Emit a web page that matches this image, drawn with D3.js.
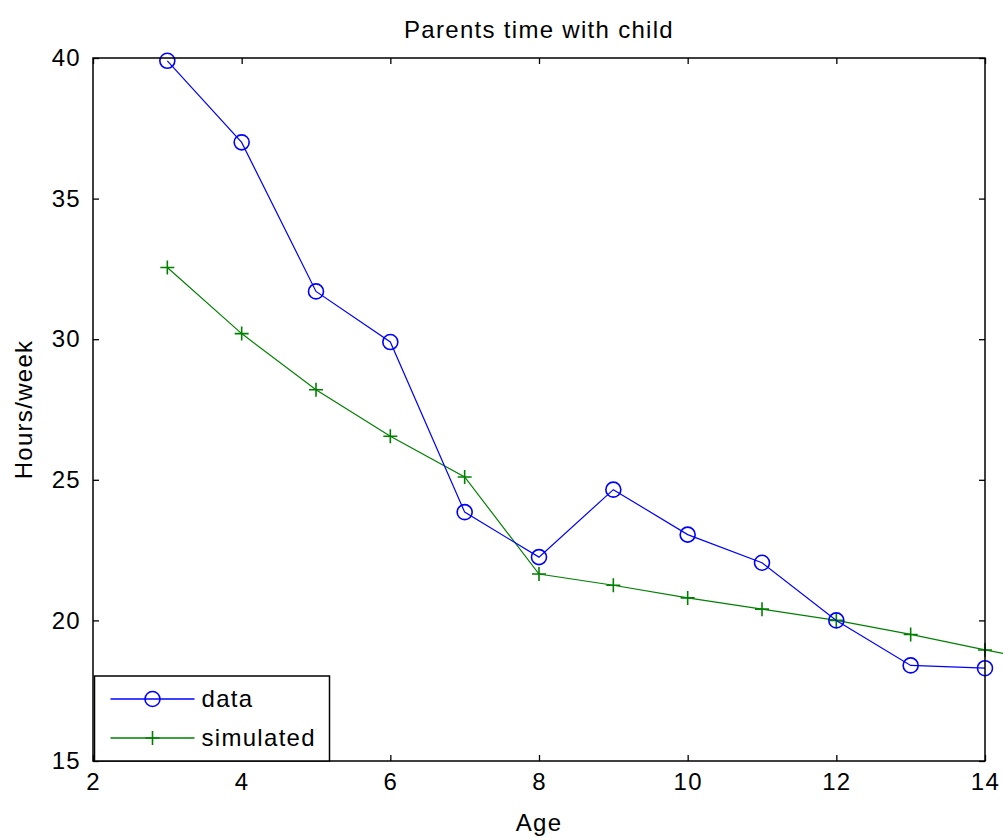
<!DOCTYPE html>
<html>
<head>
<meta charset="utf-8">
<script src="https://cdn.jsdelivr.net/npm/d3@7"></script>
<style>
  body { margin: 0; background: #fff; }
  svg text { font-family: "Liberation Sans", Arial, sans-serif; fill: #000; letter-spacing: 1.3px; }
</style>
</head>
<body>
<script>
// chart data
var ages = [3, 4, 5, 6, 7, 8, 9, 10, 11, 12, 13, 14];
var dataVals = [39.9, 37.0, 31.7, 29.9, 23.85, 22.25, 24.65, 23.05, 22.05, 20.0, 18.4, 18.3];
var simAges = [3, 4, 5, 6, 7, 8, 9, 10, 11, 12, 13, 14, 15];
var simVals = [32.55, 30.2, 28.2, 26.55, 25.1, 21.65, 21.25, 20.8, 20.4, 20.0, 19.5, 18.95, 18.45];
var xTicks = [2, 4, 6, 8, 10, 12, 14];
var yTicks = [15, 20, 25, 30, 35, 40];

var w = 1003, h = 838;
var mLeft = 93, mRight = 985, mTop = 58, mBottom = 761;
var fs = "24px";

var svg = d3.select("body").append("svg")
  .attr("width", w)
  .attr("height", h);

var x = d3.scaleLinear().domain([2, 14]).range([mLeft, mRight]);
var y = d3.scaleLinear().domain([15, 40]).range([mBottom, mTop]);

// title and axis labels
svg.append("text")
  .attr("x", (mLeft + mRight) / 2).attr("y", 38)
  .attr("text-anchor", "middle")
  .attr("font-size", fs)
  .text("Parents time with child");

svg.append("text")
  .attr("x", x(8)).attr("y", 831)
  .attr("text-anchor", "middle")
  .attr("font-size", fs)
  .text("Age");

svg.append("text")
  .attr("transform", "translate(32," + ((mTop + mBottom) / 2) + ") rotate(-90)")
  .attr("text-anchor", "middle")
  .attr("font-size", fs)
  .text("Hours/week");

// lines (not clipped, like matlab)
var line = d3.line()
  .x(function(d) { return x(d[0]); })
  .y(function(d) { return y(d[1]); });

var simPts = simAges.map(function(a, i) { return [a, simVals[i]]; });
var dataPts = ages.map(function(a, i) { return [a, dataVals[i]]; });

svg.append("path")
  .datum(simPts)
  .attr("d", line)
  .attr("fill", "none")
  .attr("stroke", "#008000")
  .attr("stroke-width", 1.2);

svg.selectAll(".plus")
  .data(simPts)
  .enter()
  .append("path")
  .attr("class", "plus")
  .attr("d", function(d) {
    var cx = x(d[0]), cy = y(d[1]), r = 7;
    return "M" + (cx - r) + "," + cy + "H" + (cx + r) + "M" + cx + "," + (cy - r) + "V" + (cy + r);
  })
  .attr("stroke", "#008000")
  .attr("stroke-width", 1.6);

svg.append("path")
  .datum(dataPts)
  .attr("d", line)
  .attr("fill", "none")
  .attr("stroke", "#0000ff")
  .attr("stroke-width", 1.2);

svg.selectAll(".circ")
  .data(dataPts)
  .enter()
  .append("circle")
  .attr("class", "circ")
  .attr("cx", function(d) { return x(d[0]); })
  .attr("cy", function(d) { return y(d[1]); })
  .attr("r", 7.5)
  .attr("fill", "none")
  .attr("stroke", "#0000ff")
  .attr("stroke-width", 1.6);

// axes, ticks inside on all four sides
var tl = 6;
var xAxisB = d3.axisBottom(x).tickValues(xTicks).tickSizeInner(-tl).tickSizeOuter(0).tickPadding(12);
var xAxisT = d3.axisTop(x).tickValues(xTicks).tickSizeInner(-tl).tickSizeOuter(0).tickFormat("");
var yAxisL = d3.axisLeft(y).tickValues(yTicks).tickSizeInner(-tl).tickSizeOuter(0).tickPadding(12);
var yAxisR = d3.axisRight(y).tickValues(yTicks).tickSizeInner(-tl).tickSizeOuter(0).tickFormat("");

function styleAxis(g) {
  g.select(".domain").remove();
  g.selectAll("line").attr("stroke", "#000").attr("stroke-width", 1.3);
  g.selectAll("text").attr("font-size", fs).attr("fill", "#000")
    .style("font-family", "'Liberation Sans', Arial, sans-serif");
}

svg.append("g").attr("transform", "translate(0," + mBottom + ")").call(xAxisB).call(styleAxis);
svg.append("g").attr("transform", "translate(0," + mTop + ")").call(xAxisT).call(styleAxis);
svg.append("g").attr("transform", "translate(" + mLeft + ",0)").call(yAxisL).call(styleAxis);
svg.append("g").attr("transform", "translate(" + mRight + ",0)").call(yAxisR).call(styleAxis);

svg.append("rect")
  .attr("x", mLeft).attr("y", mTop)
  .attr("width", mRight - mLeft).attr("height", mBottom - mTop)
  .attr("fill", "none")
  .attr("stroke", "#000")
  .attr("stroke-width", 1.5);

// legend
var lg = svg.append("g").attr("transform", "translate(" + (mLeft + 1.5) + ",676)");
lg.append("rect")
  .attr("width", 235).attr("height", mBottom - 676)
  .attr("fill", "#fff")
  .attr("stroke", "#000")
  .attr("stroke-width", 1.5);

var legendItems = ["data", "simulated"];
var legendColors = ["#0000ff", "#008000"];
legendItems.forEach(function(name, i) {
  var ly = 23 + i * 39;
  lg.append("line")
    .attr("x1", 16).attr("x2", 100).attr("y1", ly).attr("y2", ly)
    .attr("stroke", legendColors[i]).attr("stroke-width", 1.5);
  if (i === 0) {
    lg.append("circle").attr("cx", 58).attr("cy", ly).attr("r", 7.5)
      .attr("fill", "none").attr("stroke", legendColors[i]).attr("stroke-width", 1.6);
  } else {
    lg.append("path")
      .attr("d", "M51," + ly + "H65M58," + (ly - 7) + "V" + (ly + 7))
      .attr("stroke", legendColors[i]).attr("stroke-width", 1.6);
  }
  lg.append("text")
    .attr("x", 107).attr("y", ly + 8)
    .attr("font-size", fs)
    .text(name);
});
</script>
</body>
</html>
